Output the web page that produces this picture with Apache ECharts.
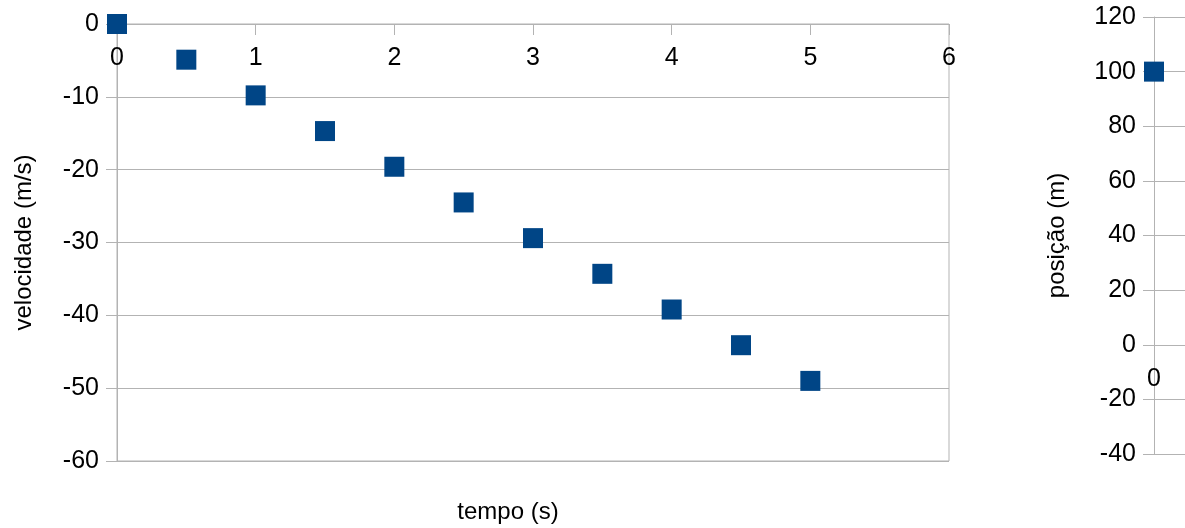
<!DOCTYPE html>
<html>
<head>
<meta charset="utf-8">
<script src="https://cdn.jsdelivr.net/npm/echarts@6/dist/echarts.min.js"></script>
<style>html,body{margin:0;padding:0;background:#fff}#c{width:1185px;height:528px}</style>
</head>
<body>
<div id="c"></div>
<script>
const tempo = [0, 0.5, 1, 1.5, 2, 2.5, 3, 3.5, 4, 4.5, 5];
const velocidade = [0, -4.9, -9.8, -14.7, -19.6, -24.5, -29.4, -34.3, -39.2, -44.1, -49];
const tempoPos = [0];
const posicao = [100];
const velRange = [-60, 0];
const posRange = [-40, 120];

const grey = '#b3b3b3';
const font = 'Liberation Sans, Arial, sans-serif';
const labelSize = 25;
const posGridHeight = 437;
// place the right-hand x axis at position 0 of its y axis
const posZeroOffset = -(0 - posRange[0]) / (posRange[1] - posRange[0]) * posGridHeight;

const chart = echarts.init(document.getElementById('c'));
chart.setOption({
  animation: false,
  textStyle: {fontFamily: font},
  title: [{
    text: 'tempo (s)', left: 508, top: 500, textAlign: 'center', padding: 0,
    textStyle: {fontSize: 24, fontWeight: 'normal', color: '#000', fontFamily: font}
  }],
  grid: [
    {left: 117, top: 24, width: 832, height: 437, outerBoundsMode: 'none', containLabel: false, show: true, borderColor: grey, borderWidth: 1, backgroundColor: 'transparent'},
    {left: 1154, top: 17, width: 832, height: posGridHeight, outerBoundsMode: 'none', containLabel: false}
  ],
  xAxis: [
    {gridIndex: 0, type: 'value', min: 0, max: 6, interval: 1, position: 'top',
     axisLine: {onZero: false, lineStyle: {color: grey}},
     axisTick: {show: true, inside: true, length: 11, lineStyle: {color: grey}},
     axisLabel: {inside: true, fontSize: labelSize, color: '#000', margin: 22, fontFamily: font},
     splitLine: {show: false}},
    {gridIndex: 1, type: 'value', min: 0, max: 6, interval: 1, position: 'bottom', offset: posZeroOffset,
     axisLine: {onZero: false, lineStyle: {color: grey}},
     axisTick: {show: true, length: 11, lineStyle: {color: grey}},
     axisLabel: {fontSize: labelSize, color: '#000', margin: 22, fontFamily: font},
     splitLine: {show: false}}
  ],
  yAxis: [
    {gridIndex: 0, type: 'value', min: velRange[0], max: velRange[1], interval: 10,
     name: 'velocidade (m/s)', nameLocation: 'middle', nameGap: 81,
     nameTextStyle: {fontSize: 24, color: '#000', fontFamily: font},
     axisLine: {show: true, onZero: false, lineStyle: {color: grey}},
     axisTick: {show: true, length: 11, lineStyle: {color: grey}},
     axisLabel: {fontSize: labelSize, color: '#000', margin: 18, fontFamily: font},
     splitLine: {show: true, lineStyle: {color: grey}}},
    {gridIndex: 1, type: 'value', min: posRange[0], max: posRange[1], interval: 20,
     name: 'posição (m)', nameLocation: 'middle', nameGap: 85,
     nameTextStyle: {fontSize: 24, color: '#000', fontFamily: font},
     axisLine: {show: true, onZero: false, lineStyle: {color: grey}},
     axisTick: {show: true, length: 11, lineStyle: {color: grey}},
     axisLabel: {fontSize: labelSize, color: '#000', margin: 18, fontFamily: font},
     splitLine: {show: true, lineStyle: {color: grey}}}
  ],
  series: [
    {type: 'scatter', xAxisIndex: 0, yAxisIndex: 0, symbol: 'rect', symbolSize: 20,
     itemStyle: {color: '#004586', opacity: 1}, data: tempo.map((t, i) => [t, velocidade[i]])},
    {type: 'scatter', xAxisIndex: 1, yAxisIndex: 1, symbol: 'rect', symbolSize: 20,
     itemStyle: {color: '#004586', opacity: 1}, data: tempoPos.map((t, i) => [t, posicao[i]])}
  ]
});
</script>
</body>
</html>
